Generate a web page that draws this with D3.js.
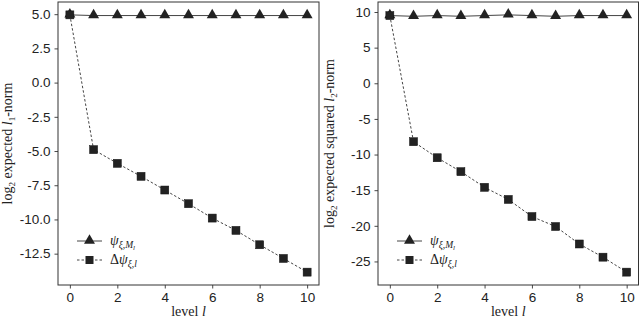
<!DOCTYPE html>
<html>
<head>
<meta charset="utf-8">
<script src="https://cdn.jsdelivr.net/npm/d3@7"></script>
<style>
  body { margin: 0; background: #fff; }
  svg { display: block; font-family: "Liberation Serif", "DejaVu Serif", serif; }
</style>
</head>
<body>
<svg id="chart" width="640" height="322"></svg>
<script>
// datos
const levels = [0, 1, 2, 3, 4, 5, 6, 7, 8, 9, 10];
const l1Full = [4.95, 4.9, 4.9, 4.9, 4.9, 4.9, 4.9, 4.9, 4.9, 4.9, 4.9];
const l1Diff = [4.95, -4.9, -5.9, -6.85, -7.85, -8.85, -9.9, -10.8, -11.85, -12.85, -13.85];
const l2Full = [9.5, 9.4, 9.5, 9.4, 9.5, 9.6, 9.5, 9.4, 9.5, 9.5, 9.5];
const l2Diff = [9.5, -8.2, -10.45, -12.4, -14.6, -16.3, -18.7, -20.1, -22.55, -24.4, -26.5];
const xTicks = [0, 2, 4, 6, 8, 10];
const l1Ticks = [5, 2.5, 0, -2.5, -5, -7.5, -10, -12.5];
const l2Ticks = [10, 5, 0, -5, -10, -15, -20, -25];

const svg = d3.select("#chart");
const ink = "#222";

// márgenes tipo matplotlib (5%)
function padded(ext) {
  const p = (ext[1] - ext[0]) * 0.05;
  return [ext[0] - p, ext[1] + p];
}

function panel(opts) {
  const g = svg.append("g");
  const x = d3.scaleLinear().domain(padded(d3.extent(levels))).range([opts.left, opts.right]);
  const yExt = d3.extent(opts.full.concat(opts.diff));
  const y = d3.scaleLinear().domain(padded(yExt)).range([opts.bottom, opts.top]);

  // eje x
  const xAxis = g.append("g")
    .attr("transform", `translate(0,${opts.bottom})`)
    .call(d3.axisBottom(x).tickValues(xTicks).tickSize(3.5).tickPadding(4).tickFormat(d3.format("d")));
  // eje y
  const yAxis = g.append("g")
    .attr("transform", `translate(${opts.left},0)`)
    .call(d3.axisLeft(y).tickValues(opts.ticks).tickSize(3.5).tickPadding(4).tickFormat(opts.fmt));

  [xAxis, yAxis].forEach(a => {
    a.select(".domain").remove();
    a.selectAll("line").attr("stroke", "#333").attr("stroke-width", 0.9);
    a.selectAll("text").attr("fill", ink).style("font-size", "13.5px");
  });

  // marco
  g.append("rect")
    .attr("x", opts.left).attr("y", opts.top)
    .attr("width", opts.right - opts.left).attr("height", opts.bottom - opts.top)
    .attr("fill", "none").attr("stroke", "#333").attr("stroke-width", 1);

  const line = d3.line().x((d, i) => x(levels[i])).y(d => y(d));

  g.append("path").datum(opts.full).attr("d", line)
    .attr("fill", "none").attr("stroke", "#444").attr("stroke-width", 1);
  g.append("path").datum(opts.diff).attr("d", line)
    .attr("fill", "none").attr("stroke", "#444").attr("stroke-width", 1)
    .attr("stroke-dasharray", "2.5,2");

  const tri = d3.symbol().type(d3.symbolTriangle).size(52);
  g.selectAll(".tri").data(opts.full).enter().append("path")
    .attr("class", "tri").attr("d", tri)
    .attr("transform", (d, i) => `translate(${x(levels[i])},${y(d) - 0.5})`)
    .attr("fill", ink);

  g.selectAll(".sq").data(opts.diff).enter().append("rect")
    .attr("class", "sq")
    .attr("x", (d, i) => x(levels[i]) - 4).attr("y", d => y(d) - 4)
    .attr("width", 8).attr("height", 8)
    .attr("fill", ink).attr("stroke", "#111").attr("stroke-width", 0.5);

  // etiqueta x
  const xl = g.append("text")
    .attr("x", (opts.left + opts.right) / 2).attr("y", 316)
    .attr("text-anchor", "middle").attr("fill", ink).style("font-size", "14px");
  xl.append("tspan").text("level ");
  xl.append("tspan").attr("font-style", "italic").text("l");

  // etiqueta y
  const yl = g.append("text")
    .attr("transform", `translate(${opts.left - opts.ylOff},${(opts.top + opts.bottom) / 2}) rotate(-90)`)
    .attr("text-anchor", "middle").attr("fill", ink).style("font-size", "14px");
  yl.append("tspan").text("log");
  yl.append("tspan").attr("dy", 3).style("font-size", "9px").text("2");
  yl.append("tspan").attr("dy", -3).text(" expected " + opts.yWord);
  yl.append("tspan").attr("font-style", "italic").text("l");
  yl.append("tspan").attr("dy", 3).style("font-size", "9px").text(opts.sub);
  yl.append("tspan").attr("dy", -3).text("-norm");

  // leyenda
  const lx = opts.left + 19;
  const rows = [
    { y: 241, dash: null, mark: "tri", label: [["ψ", 0, 14, true], ["ξ,", 3, 9.5, true], ["M", 3, 9.5, true], ["l", 5, 7, true]] },
    { y: 260, dash: "2.5,2", mark: "sq", label: [["Δ", 0, 14, false], ["ψ", 0, 14, true], ["ξ,l", 3, 9.5, true]] }
  ];
  rows.forEach(r => {
    g.append("line").attr("x1", lx).attr("x2", lx + 25).attr("y1", r.y).attr("y2", r.y)
      .attr("stroke", "#444").attr("stroke-width", 1).attr("stroke-dasharray", r.dash);
    if (r.mark === "tri") {
      g.append("path").attr("d", tri).attr("transform", `translate(${lx + 12.5},${r.y - 0.5})`).attr("fill", ink);
    } else {
      g.append("rect").attr("x", lx + 8.5).attr("y", r.y - 4).attr("width", 8).attr("height", 8).attr("fill", ink);
    }
    const t = g.append("text").attr("x", lx + 33).attr("y", r.y + 4).attr("fill", ink);
    let prev = 0;
    r.label.forEach(([s, dy, fs, it]) => {
      t.append("tspan").attr("dy", dy - prev).attr("font-style", it ? "italic" : "normal")
        .style("font-size", fs + "px").text(s);
      prev = dy;
    });
  });
}

panel({
  left: 58, right: 319, top: 2, bottom: 285,
  full: l1Full, diff: l1Diff, ticks: l1Ticks,
  fmt: d => d.toFixed(1), yWord: "", sub: "1", ylOff: 46
});

panel({
  left: 378, right: 638.5, top: 2, bottom: 285,
  full: l2Full, diff: l2Diff, ticks: l2Ticks,
  fmt: d => String(d), yWord: "squared ", sub: "2", ylOff: 44
});
</script>
</body>
</html>
